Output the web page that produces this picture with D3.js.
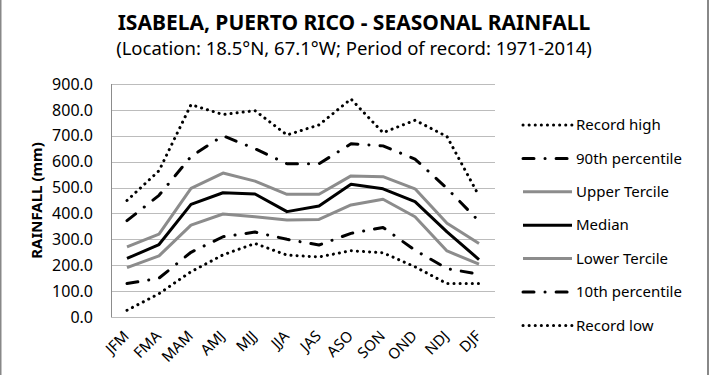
<!DOCTYPE html>
<html lang="en">
<head>
    <meta charset="UTF-8">
    <title>Isabela seasonal rainfall</title>
    <script src="https://d3js.org/d3.v7.min.js" charset="utf-8"></script>
    <style type="text/css">
        body {
            margin: 0;
            background: #fff;
            font-family: "Noto Sans", sans-serif;
        }
        .grid line {
            stroke: #bcbcbc;
            shape-rendering: crispEdges;
        }
    </style>
</head>
<body>
    <script type="text/javascript">
        const w = 710,
            h = 375,
            margin = { top: 84, right: 215, bottom: 58, left: 111 };

        // seasons (3-month windows)
        const seasons = ["JFM", "FMA", "MAM", "AMJ", "MJJ", "JJA", "JAS", "ASO", "SON", "OND", "NDJ", "DJF"];
        const yTicks = [0, 100, 200, 300, 400, 500, 600, 700, 800, 900];

        // rainfall in mm
        const recordHigh = [450, 565, 820, 782, 797, 703, 742, 842, 712, 760, 697, 468];
        const pct90 = [372, 470, 620, 700, 650, 592, 592, 669, 661, 610, 497, 370];
        const upperTercile = [271, 320, 497, 556, 525, 474, 474, 545, 542, 495, 362, 284];
        const median = [226, 280, 435, 480, 475, 407, 429, 513, 495, 446, 329, 222];
        const lowerTercile = [191, 236, 355, 398, 387, 375, 377, 433, 455, 387, 255, 204];
        const pct10 = [129, 150, 250, 310, 328, 300, 278, 323, 346, 258, 187, 165];
        const recordLow = [26, 90, 175, 240, 284, 239, 232, 256, 248, 194, 129, 129];

        const series = [
            { name: "Record high", values: recordHigh, color: "#000", dash: "0.1,6", cap: "round", width: 3 },
            { name: "90th percentile", values: pct90, color: "#000", dash: "11,11,0.1,11", cap: "round", width: 3 },
            { name: "Upper Tercile", values: upperTercile, color: "#8c8c8c", dash: null, cap: "butt", width: 3 },
            { name: "Median", values: median, color: "#000", dash: null, cap: "butt", width: 3 },
            { name: "Lower Tercile", values: lowerTercile, color: "#8c8c8c", dash: null, cap: "butt", width: 3 },
            { name: "10th percentile", values: pct10, color: "#000", dash: "11,11,0.1,11", cap: "round", width: 3 },
            { name: "Record low", values: recordLow, color: "#000", dash: "0.1,6", cap: "round", width: 3 }
        ];

        let svg = d3.select("body").append("svg").attr("width", w).attr("height", h);

        // chart frame
        svg.append("rect")
            .attr("x", 0.5).attr("y", -5)
            .attr("width", 707.5).attr("height", h + 10)
            .attr("fill", "none")
            .attr("stroke", "#888")
            .attr("stroke-width", 2);

        const xScale = d3.scaleBand()
            .domain(seasons)
            .range([margin.left, w - margin.right]);

        const yScale = d3.scaleLinear()
            .domain([0, 900])
            .range([h - margin.bottom, margin.top]);

        // gridlines
        svg.append("g")
            .attr("class", "grid")
            .selectAll("line")
            .data(yTicks)
            .enter()
            .append("line")
            .attr("x1", margin.left)
            .attr("x2", w - margin.right)
            .attr("y1", d => Math.round(yScale(d)) + 0.5)
            .attr("y2", d => Math.round(yScale(d)) + 0.5);

        // left axis line
        svg.append("line")
            .attr("x1", margin.left + 0.5).attr("x2", margin.left + 0.5)
            .attr("y1", yScale(900)).attr("y2", yScale(0))
            .attr("stroke", "#8c8c8c")
            .style("shape-rendering", "crispEdges");

        // y tick labels
        const yAxis = d3.axisLeft(yScale)
            .tickValues(yTicks)
            .tickFormat(d3.format(".1f"))
            .tickSize(0)
            .tickPadding(18);

        svg.append("g")
            .attr("transform", `translate(${margin.left}, 0)`)
            .call(yAxis)
            .call(g => g.select(".domain").remove())
            .selectAll("text")
            .attr("font-family", "Noto Sans, sans-serif")
            .attr("font-size", 16)
            .attr("fill", "#000");

        // x tick labels
        const xAxis = d3.axisBottom(xScale).tickSize(0).tickPadding(0);
        svg.append("g")
            .attr("transform", `translate(0, ${h - margin.bottom})`)
            .call(xAxis)
            .call(g => g.select(".domain").remove())
            .selectAll("text")
            .attr("font-family", "Noto Sans, sans-serif")
            .attr("font-size", 15)
            .attr("fill", "#000")
            .attr("text-anchor", "end")
            .attr("dy", null)
            .attr("y", 0)
            .attr("transform", "translate(3, 20) rotate(-45)");

        // y title
        svg.append("text")
            .attr("transform", `translate(42, ${(yScale(0) + yScale(900)) / 2}) rotate(-90)`)
            .attr("text-anchor", "middle")
            .attr("font-weight", "bold")
            .attr("font-size", 15)
            .text("RAINFALL (mm)");

        // lines
        const line = d3.line()
            .x((d, i) => xScale(seasons[i]) + xScale.bandwidth() / 2)
            .y(d => yScale(d));

        svg.selectAll(".series")
            .data(series)
            .enter()
            .append("path")
            .attr("class", "series")
            .attr("d", d => line(d.values))
            .attr("fill", "none")
            .attr("stroke", d => d.color)
            .attr("stroke-width", d => d.width)
            .attr("stroke-linecap", d => d.cap)
            .attr("stroke-linejoin", "round")
            .attr("stroke-dasharray", d => d.dash);

        // legend
        const legend = svg.selectAll(".legend")
            .data(series)
            .enter()
            .append("g")
            .attr("class", "legend")
            .attr("transform", (d, i) => `translate(522, ${125 + i * 33.4})`);

        legend.append("line")
            .attr("x1", 1).attr("x2", 50)
            .attr("stroke", d => d.color)
            .attr("stroke-width", d => d.width)
            .attr("stroke-linecap", d => d.cap)
            .attr("stroke-dasharray", d => d.dash);

        legend.append("text")
            .attr("x", 54)
            .attr("dy", "0.35em")
            .attr("font-size", 15)
            .text(d => d.name);

        // titles
        svg.append("text")
            .attr("x", 354).attr("y", 30)
            .attr("text-anchor", "middle")
            .attr("font-weight", "bold")
            .attr("font-size", 21)
            .text("ISABELA, PUERTO RICO - SEASONAL RAINFALL");

        svg.append("text")
            .attr("x", 354).attr("y", 55)
            .attr("text-anchor", "middle")
            .attr("font-size", 18.5)
            .text("(Location: 18.5°N, 67.1°W; Period of record: 1971-2014)");
    </script>
</body>
</html>
